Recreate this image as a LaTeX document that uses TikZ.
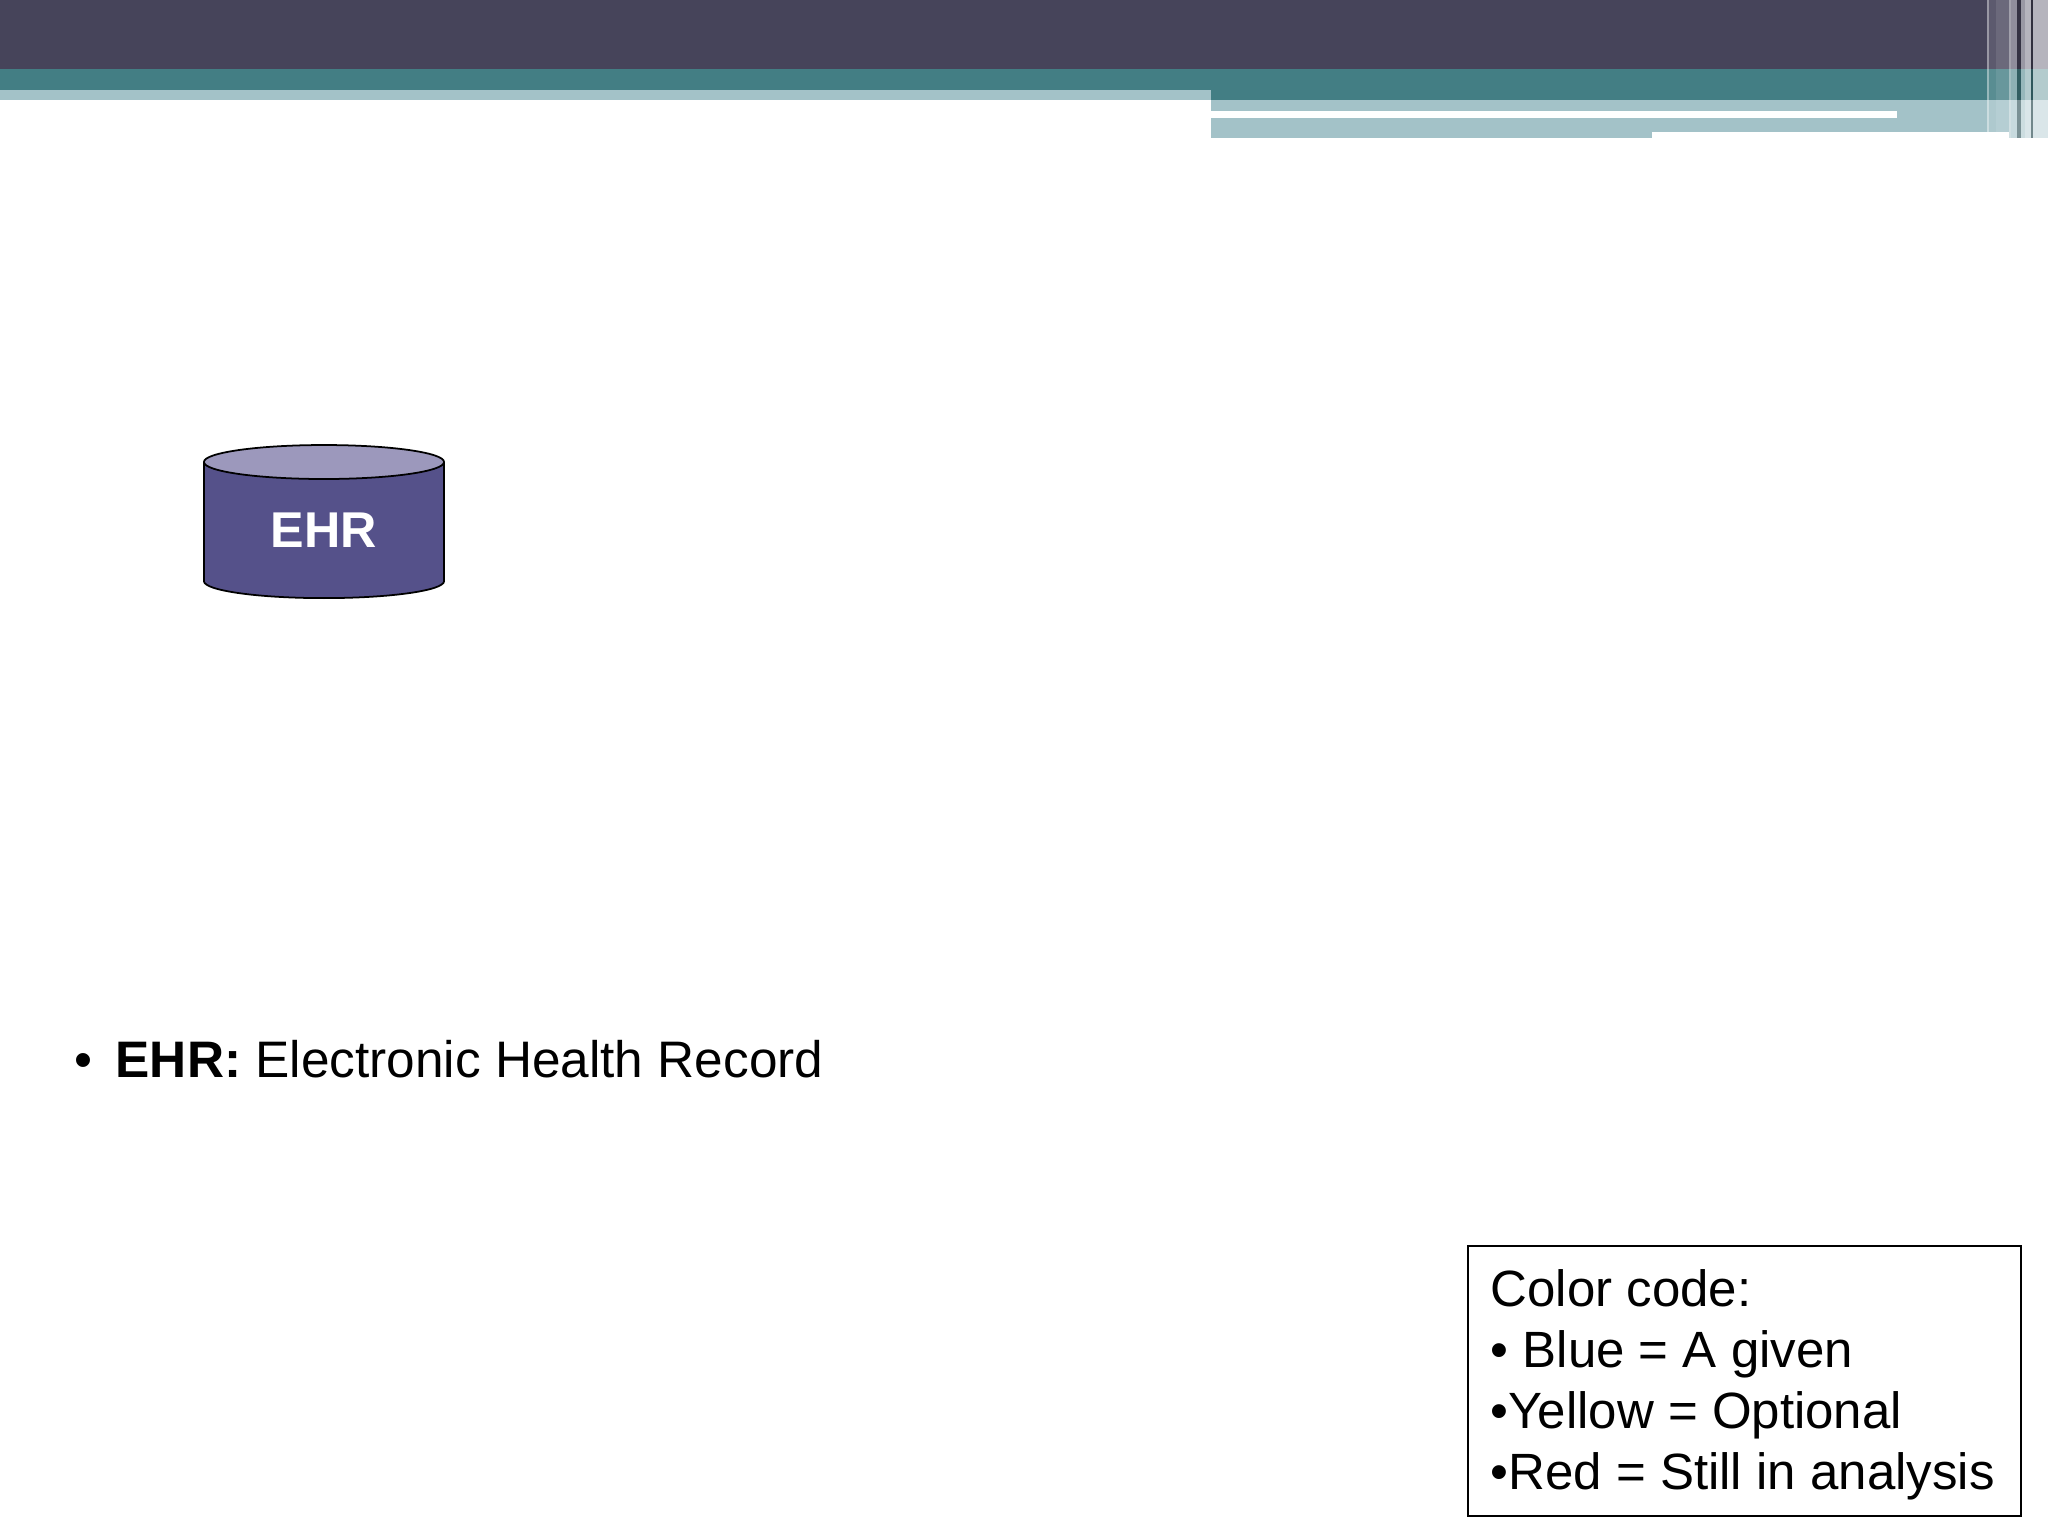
\documentclass[tikz,border=0pt]{standalone}
\usepackage{fontspec}
\setmainfont{Liberation Sans}
\usetikzlibrary{shapes.geometric, positioning}

\definecolor{bannerdark}{HTML}{46445A}
\definecolor{bannerteal}{HTML}{437E84}
\definecolor{bannerlight}{HTML}{A3C2C8}
\definecolor{ehrbody}{HTML}{55518A}
\definecolor{ehrtop}{HTML}{9C98BC}

\begin{document}
\begin{tikzpicture}[x=0.01cm, y=-0.01cm,
    db/.style={cylinder, shape border rotate=90, aspect=0.32, draw=black,
      line width=0.5pt, cylinder uses custom fill, cylinder body fill=ehrbody,
      cylinder end fill=ehrtop, minimum width=2.4cm, minimum height=1.53cm,
      inner sep=0pt, text=white, font=\fontsize{14.3}{17}\selectfont\bfseries},
    legendbox/.style={draw=black, line width=0.6pt, minimum width=5.53cm,
      minimum height=2.7cm, inner sep=0pt},
    legendline/.style={anchor=base west, inner sep=0pt,
      font=\fontsize{14.5}{17}\selectfont},
    bulletline/.style={anchor=base west, inner sep=0pt,
      font=\fontsize{14.6}{17}\selectfont}]
  \useasboundingbox (0,0) rectangle (2048,1536);
  \fill[white] (0,0) rectangle (2048,1536);

  % Banner
  \fill[bannerdark] (0,0) rectangle (2048,69);
  \fill[bannerteal] (0,69) rectangle (2048,100);
  \fill[bannerlight] (0,90) rectangle (1211,100);
  \fill[bannerlight] (1211,100) rectangle (2009,132);
  \fill[bannerlight] (1211,118) rectangle (1652,138);
  \fill[bannerlight] (2009,100) rectangle (2048,138);
  \fill[white] (1211,111) rectangle (1897,118);
  % -- stripes on the right
  \fill[white, opacity=.45] (1987,0) rectangle (1988.5,132);
  \fill[white, opacity=.12] (1989,0) rectangle (1996,132);
  \fill[white, opacity=.2] (1996,0) rectangle (2009,132);
  \fill[white, opacity=.5] (2009,0) rectangle (2010.5,138);
  \fill[white, opacity=.4] (2010.5,0) rectangle (2017,138);
  \fill[black, opacity=.25] (2017,0) rectangle (2021,138);
  \fill[white, opacity=.45] (2021,0) rectangle (2025,138);
  \fill[white, opacity=.6] (2025,0) rectangle (2031,138);
  \fill[black, opacity=.3] (2031,0) rectangle (2033,138);
  \fill[white, opacity=.6] (2033,0) rectangle (2048,138);

  % EHR
  \node [db] (EHR) at (324,530.5) {EHR};%

  % definition
  \node [bulletline] (dot) at (74,1077) {\textbullet};%
  \node [bulletline] (Def) at (115,1077) {\textbf{EHR:} Electronic Health
    Record};%

  % Color code
  \node [legendbox, anchor=north west] (Legend) at (1467,1245) {};%
  \node [legendline] (Code) at (1490,1306) {Color code:};%
  \node [legendline] (Blue) at (1490,1367) {\textbullet\ Blue = A given};%
  \node [legendline] (Yellow) at (1490,1428) {\textbullet Yellow = Optional};%
  \node [legendline] (Red) at (1490,1489) {\textbullet Red = Still in
    analysis};%
\end{tikzpicture}
\end{document}
